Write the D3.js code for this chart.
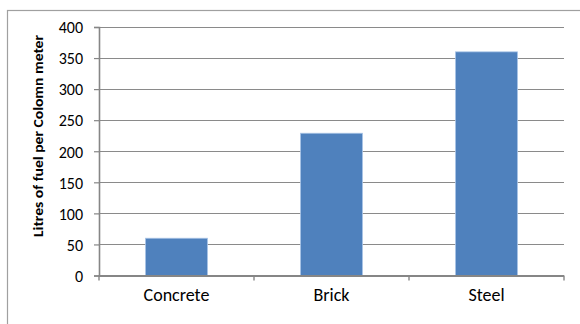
<!DOCTYPE html>
<html>
<head>
<meta charset="utf-8">
<script src="https://cdn.jsdelivr.net/npm/d3@7"></script>
<style>
  html, body { margin: 0; padding: 0; background: #fff; }
  svg { display: block; }
  text { font-family: Carlito, Lato, "Liberation Sans", sans-serif; fill: #000; }
</style>
</head>
<body>
<svg id="chart" width="580" height="324"></svg>
<script>
// Fuel use per column meter by construction material
const categories = ["Concrete", "Brick", "Steel"];
const values = [60, 229, 360];
const yTicks = [0, 50, 100, 150, 200, 250, 300, 350, 400];
const yTitle = "Litres of fuel per Colomn meter";

const svg = d3.select("#chart");
const plot = { left: 99, right: 564, top: 27, bottom: 275.5 };

// Outer chart frame (runs past the right and bottom edges)
svg.append("rect")
  .attr("x", 7.5).attr("y", 10.5)
  .attr("width", 600).attr("height", 340)
  .attr("fill", "none").attr("stroke", "#a0a0a0").attr("stroke-width", 1.2);

const y = d3.scaleLinear().domain([0, 400]).range([plot.bottom, plot.top]);
const x = d3.scaleBand().domain(categories)
  .range([plot.left, plot.right])
  .paddingInner(0.6).paddingOuter(0.3);

// Horizontal gridlines
svg.append("g").selectAll("line")
  .data(yTicks.filter(d => d > 0))
  .join("line")
  .attr("x1", plot.left).attr("x2", plot.right)
  .attr("y1", d => Math.round(y(d)) + 0.5).attr("y2", d => Math.round(y(d)) + 0.5)
  .attr("stroke", "#8a8a8a").attr("stroke-width", 1.2);

// Bars
svg.append("g").selectAll("rect")
  .data(categories)
  .join("rect")
  .attr("x", d => x(d))
  .attr("y", (d, i) => y(values[i]))
  .attr("width", x.bandwidth())
  .attr("height", (d, i) => y(0) - y(values[i]))
  .attr("fill", "#4f81bd")
  .attr("stroke", "#a9c4e6").attr("stroke-width", 0.8);

// Y axis
const yAxis = svg.append("g")
  .attr("transform", `translate(${plot.left},0)`)
  .call(d3.axisLeft(y).tickValues(yTicks).tickSize(5).tickPadding(11));
yAxis.select(".domain").attr("stroke", "#868686").attr("stroke-width", 1.6);
yAxis.selectAll(".tick line").attr("stroke", "#868686").attr("stroke-width", 1.2);
yAxis.selectAll(".tick text")
  .attr("dy", "0.36em")
  .style("font-size", "16px")
  .style("font-family", "Carlito, Lato, 'Liberation Sans', sans-serif")
  .attr("fill", "#000");

// X axis baseline with category boundary ticks
const step = x.step();
const bounds = d3.range(categories.length + 1).map(i => plot.left + i * step);
svg.append("line")
  .attr("x1", plot.left).attr("x2", plot.right)
  .attr("y1", plot.bottom + 0.5).attr("y2", plot.bottom + 0.5)
  .attr("stroke", "#868686").attr("stroke-width", 2);
svg.append("g").selectAll("line")
  .data(bounds)
  .join("line")
  .attr("x1", d => d).attr("x2", d => d)
  .attr("y1", plot.bottom).attr("y2", plot.bottom + 5)
  .attr("stroke", "#868686").attr("stroke-width", 1.4);

// Category labels
svg.append("g").selectAll("text")
  .data(categories)
  .join("text")
  .attr("x", d => x(d) + x.bandwidth() / 2)
  .attr("y", 301)
  .attr("text-anchor", "middle")
  .style("font-size", "18px")
  .text(d => d);

// Y axis title
svg.append("text")
  .attr("transform", "translate(43,136) rotate(-90)")
  .attr("text-anchor", "middle")
  .attr("textLength", 202)
  .attr("lengthAdjust", "spacingAndGlyphs")
  .style("font-size", "14px")
  .style("font-weight", "bold")
  .text(yTitle);
</script>
</body>
</html>
